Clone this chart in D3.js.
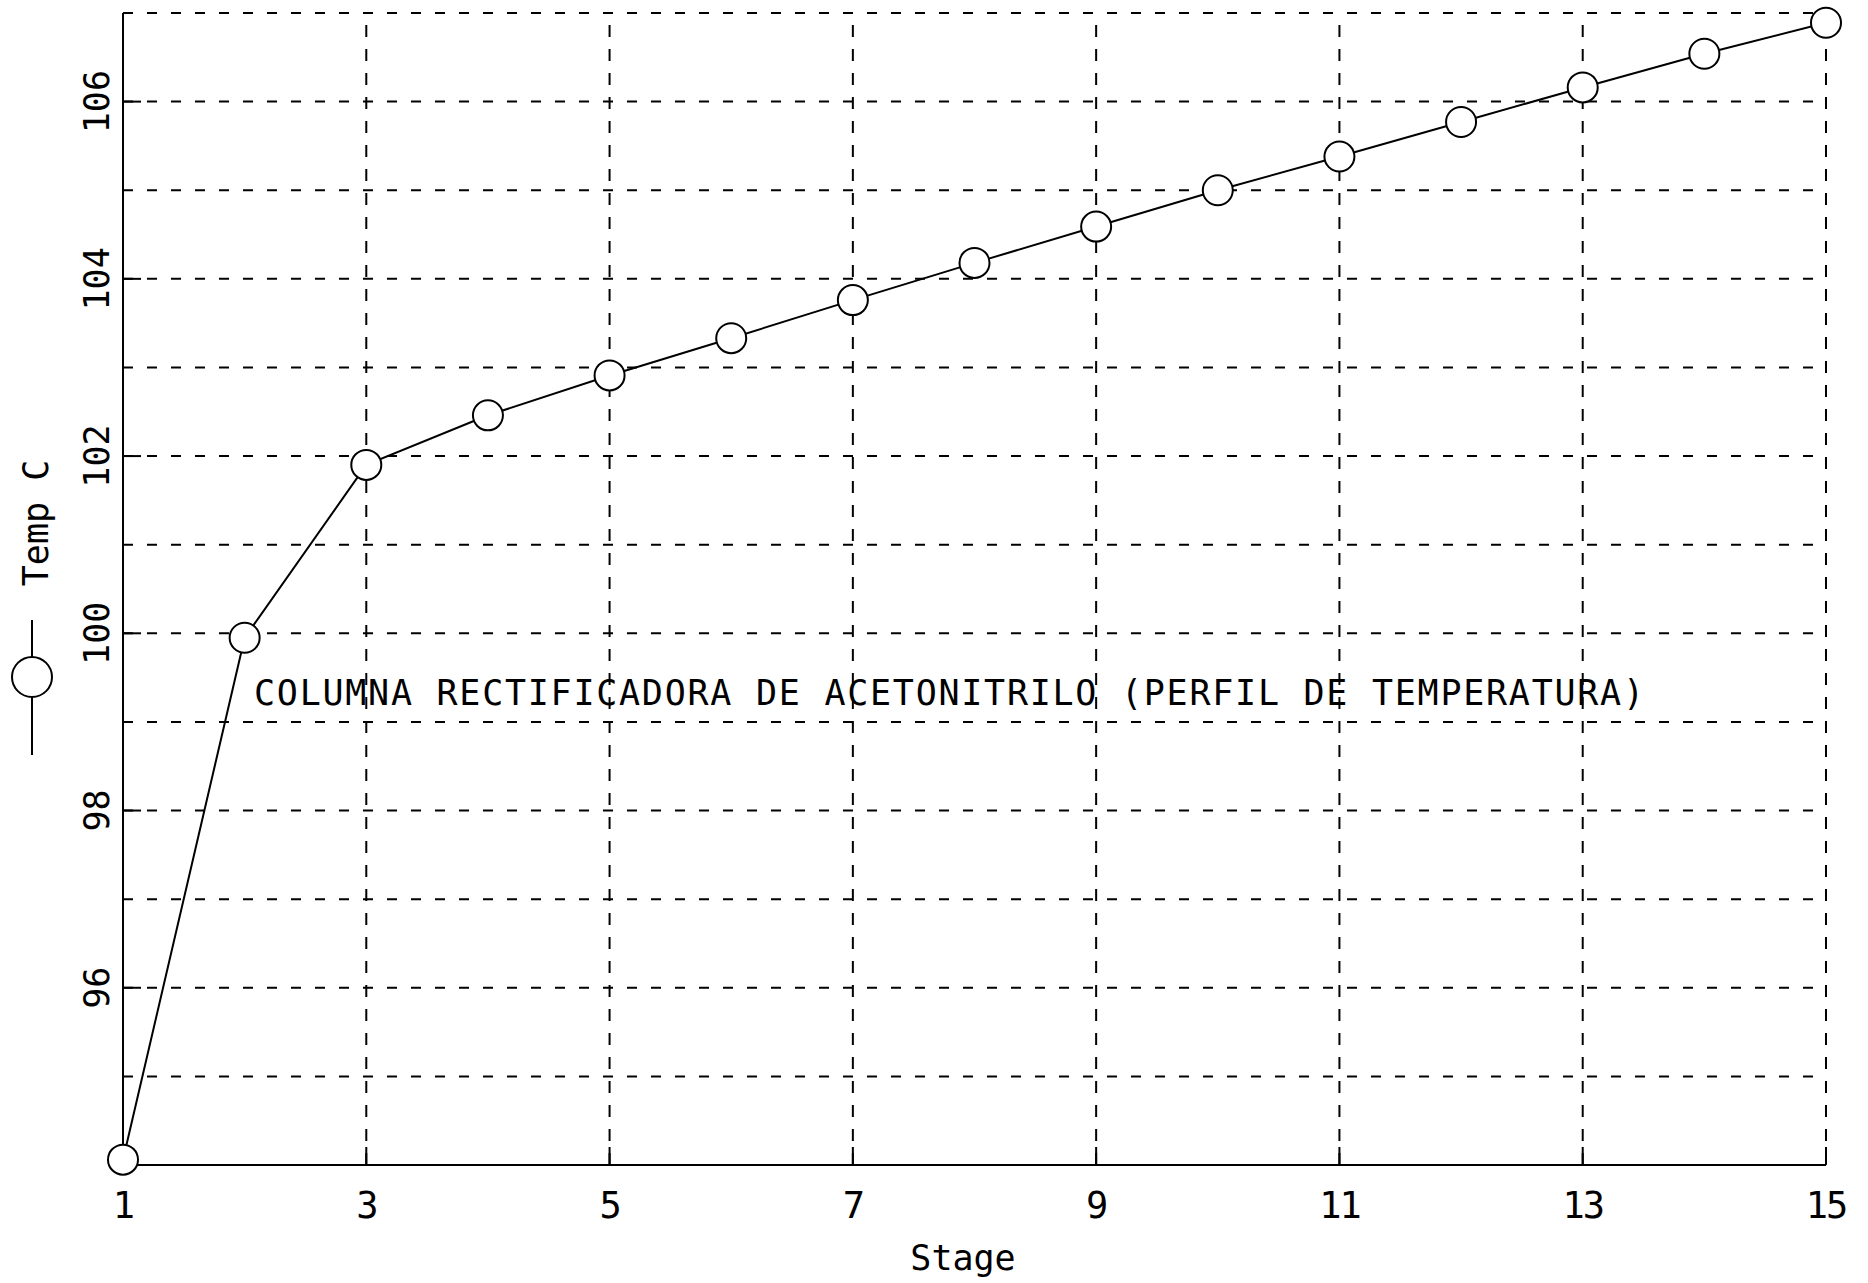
<!DOCTYPE html>
<html>
<head>
<meta charset="utf-8">
<script src="https://cdn.jsdelivr.net/npm/d3@7"></script>
<style>
  body { margin: 0; background: #fff; }
  text { font-family: "DejaVu Sans Mono", "Liberation Mono", monospace; fill: #000; }
</style>
</head>
<body>
<script>
const width = 1868
const height = 1283

// data
const stages = [1, 2, 3, 4, 5, 6, 7, 8, 9, 10, 11, 12, 13, 14, 15];
const temps = [94.06, 99.95, 101.9, 102.46, 102.91, 103.33, 103.76, 104.18, 104.59, 105.0, 105.38, 105.77, 106.16, 106.54, 106.89];
const xTicks = [1, 3, 5, 7, 9, 11, 13, 15];
const yTicks = [96, 98, 100, 102, 104, 106];
const yGrid = [95, 96, 97, 98, 99, 100, 101, 102, 103, 104, 105, 106, 107];
const xGrid = [3, 5, 7, 9, 11, 13, 15];
const title = "COLUMNA RECTIFICADORA DE ACETONITRILO (PERFIL DE TEMPERATURA)";
const seriesName = "Temp C";

const svg = d3.select("body").append("svg")
    .attr("width", width)
    .attr("height", height);

svg.append("rect").attr("width", width).attr("height", height).attr("fill", "#fff");

const x = d3.scaleLinear().domain([1, 15]).range([123, 1826]);
const y = d3.scaleLinear().domain([94, 107]).range([1165, 13]);

// dashed grid
svg.append("g").selectAll("line")
    .data(yGrid).enter().append("line")
    .attr("x1", x(1)).attr("x2", x(15))
    .attr("y1", d => y(d)).attr("y2", d => y(d))
    .attr("stroke", "#000").attr("stroke-width", 2)
    .attr("stroke-dasharray", "10,14");

svg.append("g").selectAll("line")
    .data(xGrid).enter().append("line")
    .attr("x1", d => x(d)).attr("x2", d => x(d))
    .attr("y1", y(94)).attr("y2", y(107))
    .attr("stroke", "#000").attr("stroke-width", 2)
    .attr("stroke-dasharray", "12,12");

// solid axes
svg.append("line")
    .attr("x1", x(1)).attr("x2", x(1)).attr("y1", y(94)).attr("y2", y(107))
    .attr("stroke", "#000").attr("stroke-width", 2);
svg.append("line")
    .attr("x1", x(1)).attr("x2", x(15)).attr("y1", y(94)).attr("y2", y(94))
    .attr("stroke", "#000").attr("stroke-width", 2);

// inward ticks
svg.append("g").selectAll("line")
    .data(yTicks).enter().append("line")
    .attr("x1", x(1)).attr("x2", x(1) + 18)
    .attr("y1", d => y(d)).attr("y2", d => y(d))
    .attr("stroke", "#000").attr("stroke-width", 2);
svg.append("g").selectAll("line")
    .data(xTicks).enter().append("line")
    .attr("x1", d => x(d)).attr("x2", d => x(d))
    .attr("y1", y(94)).attr("y2", y(94) - 18)
    .attr("stroke", "#000").attr("stroke-width", 2);

// tick labels
svg.append("g").selectAll("text")
    .data(xTicks).enter().append("text")
    .attr("x", d => x(d)).attr("y", 1218)
    .attr("text-anchor", "middle")
    .attr("font-size", 37)
    .attr("letter-spacing", -2)
    .text(d => d);

svg.append("g").selectAll("text")
    .data(yTicks).enter().append("text")
    .attr("transform", d => `translate(97,${y(d)}) rotate(-90)`)
    .attr("text-anchor", "middle")
    .attr("dominant-baseline", "central")
    .attr("font-size", 35)
    .text(d => d);

svg.append("text")
    .attr("x", 963).attr("y", 1270)
    .attr("text-anchor", "middle")
    .attr("font-size", 35)
    .text("Stage");

// title inside plot
svg.append("text")
    .attr("x", 254).attr("y", 705)
    .attr("font-size", 35)
    .attr("textLength", 1390)
    .attr("lengthAdjust", "spacing")
    .text(title);

// series
const line = d3.line()
    .x((d, i) => x(stages[i]))
    .y(d => y(d));

svg.append("path")
    .datum(temps)
    .attr("d", line)
    .attr("fill", "none")
    .attr("stroke", "#000")
    .attr("stroke-width", 2);

svg.append("g").selectAll("circle")
    .data(temps).enter().append("circle")
    .attr("cx", (d, i) => x(stages[i]))
    .attr("cy", d => y(d))
    .attr("r", 15)
    .attr("fill", "#fff")
    .attr("stroke", "#000")
    .attr("stroke-width", 2);

// legend on the left, drawn vertically
const legend = svg.append("g");
legend.append("line")
    .attr("x1", 32).attr("x2", 32).attr("y1", 620).attr("y2", 755)
    .attr("stroke", "#000").attr("stroke-width", 2);
legend.append("circle")
    .attr("cx", 32).attr("cy", 677).attr("r", 20)
    .attr("fill", "#fff").attr("stroke", "#000").attr("stroke-width", 2);
legend.append("text")
    .attr("transform", "translate(36,523) rotate(-90)")
    .attr("text-anchor", "middle")
    .attr("dominant-baseline", "central")
    .attr("font-size", 35)
    .text(seriesName);
</script>
</body>
</html>
